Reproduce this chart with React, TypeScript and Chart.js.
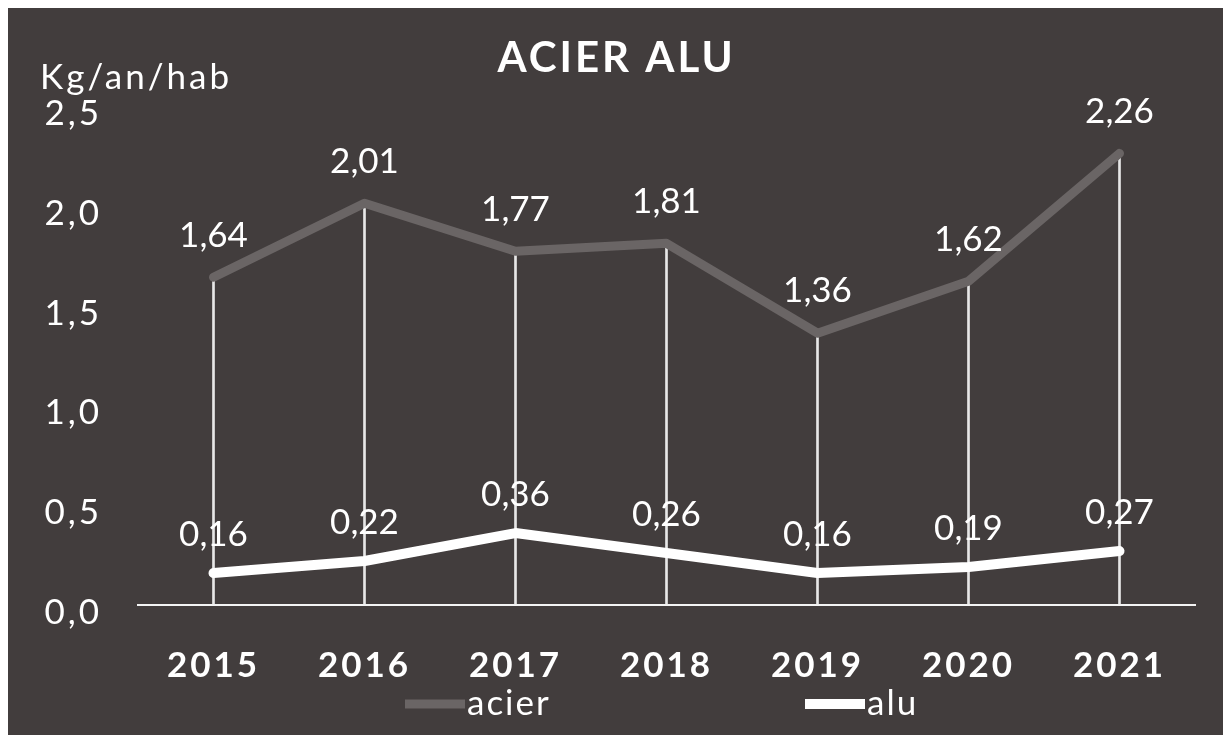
import React, { useEffect, useRef } from "react";
import { Chart, registerables } from "chart.js";

Chart.register(...registerables);

const years = ["2015", "2016", "2017", "2018", "2019", "2020", "2021"];
const acier = [1.64, 2.01, 1.77, 1.81, 1.36, 1.62, 2.26];
const alu = [0.16, 0.22, 0.36, 0.26, 0.16, 0.19, 0.27];
const yTicks = [0, 0.5, 1.0, 1.5, 2.0, 2.5];
const chartTitle = "ACIER ALU";
const unitLabel = "Kg/an/hab";

const FONT = "Lato, 'Open Sans', sans-serif";
const BG = "#423d3d";
const ACIER_COLOR = "#6a6565";
const ALU_COLOR = "#ffffff";

const fmt = (v: number, d: number) => v.toFixed(d).replace(".", ",");

const spacingPlugin = {
  id: "spacing",
  beforeLayout(chart: any) {
    chart.ctx.letterSpacing = "3px";
  },
  beforeDraw(chart: any) {
    chart.ctx.letterSpacing = "3px";
  },
};

const extrasPlugin = {
  id: "extras",
  afterDatasetsDraw(chart: any) {
    const ctx = chart.ctx;
    ctx.save();
    ctx.letterSpacing = "0px";
    ctx.fillStyle = "#ffffff";
    ctx.font = `35px ${FONT}`;
    ctx.textAlign = "center";
    ctx.textBaseline = "middle";
    chart.data.datasets.forEach((ds: any, i: number) => {
      if (ds.type !== "line") return;
      const meta = chart.getDatasetMeta(i);
      const off = ds.label === "acier" ? 42 : 38;
      meta.data.forEach((pt: any, j: number) => {
        ctx.fillText(fmt(ds.data[j], 2), pt.x, pt.y - off);
      });
    });
    ctx.restore();
  },
  afterDraw(chart: any) {
    const ctx = chart.ctx;
    ctx.save();
    ctx.fillStyle = "#ffffff";
    ctx.font = `35px ${FONT}`;
    ctx.textAlign = "left";
    ctx.textBaseline = "middle";
    ctx.letterSpacing = "3px";
    ctx.fillText(unitLabel, 32, 70);
    // legend
    ctx.letterSpacing = "2px";
    const cx = chart.width / 2;
    const ly = chart.chartArea.bottom + 99;
    const items = chart.data.datasets.filter((d: any) => d.type === "line");
    const starts = [cx - 211.5, cx + 188.5];
    items.forEach((ds: any, k: number) => {
      const x0 = starts[k];
      ctx.strokeStyle = ds.borderColor;
      ctx.lineWidth = ds.borderWidth;
      ctx.lineCap = "butt";
      ctx.beginPath();
      ctx.moveTo(x0, ly);
      ctx.lineTo(x0 + 60, ly);
      ctx.stroke();
      ctx.fillText(ds.label, x0 + 62, ly);
    });
    ctx.restore();
  },
};

export default function App() {
  const ref = useRef<HTMLCanvasElement | null>(null);
  useEffect(() => {
    if (!ref.current) return;
    const chart = new Chart(ref.current, {
      type: "bar",
      data: {
        labels: years,
        datasets: [
          {
            type: "line",
            label: "acier",
            data: acier,
            borderColor: ACIER_COLOR,
            backgroundColor: ACIER_COLOR,
            borderWidth: 9,
            pointRadius: 0,
            borderJoinStyle: "round",
            borderCapStyle: "round",
            tension: 0,
            order: 2,
          } as any,
          {
            type: "line",
            label: "alu",
            data: alu,
            borderColor: ALU_COLOR,
            backgroundColor: ALU_COLOR,
            borderWidth: 10,
            pointRadius: 0,
            borderJoinStyle: "round",
            borderCapStyle: "round",
            tension: 0,
            order: 1,
          } as any,
          {
            type: "bar",
            label: "drop",
            data: acier,
            backgroundColor: "rgba(240,240,240,0.95)",
            barThickness: 2,
            order: 3,
          } as any,
        ],
      },
      options: {
        animation: false,
        responsive: true,
        maintainAspectRatio: false,
        layout: { padding: { left: 0, right: 0, top: 0, bottom: 8 } },
        plugins: {
          legend: { display: false },
          tooltip: { enabled: false },
          title: {
            display: true,
            text: chartTitle,
            color: "#ffffff",
            font: { family: FONT, size: 42, weight: "bold" },
            padding: { top: 25, bottom: 22 },
          },
        },
        scales: {
          x: {
            offset: true,
            grid: { display: false, drawTicks: false },
            border: { display: true, color: "#f4f4f4", width: 2 },
            ticks: {
              color: "#ffffff",
              font: { family: FONT, size: 35, weight: "bold" },
              padding: 40,
              maxRotation: 0,
            },
          },
          y: {
            min: 0,
            max: 2.5,
            grid: { display: false, drawTicks: false },
            border: { display: false },
            afterFit: (scale: any) => {
              scale.width = 130;
            },
            afterBuildTicks: (scale: any) => {
              scale.ticks = yTicks.map((v) => ({ value: v }));
            },
            ticks: {
              color: "#ffffff",
              font: { family: FONT, size: 35 },
              padding: 36,
              labelOffset: 8,
              callback: (v: any) => fmt(Number(v), 1),
            },
          },
          yRight: {
            position: "right",
            min: 0,
            max: 2.5,
            grid: { display: false, drawTicks: false },
            border: { display: false },
            ticks: { display: false },
            afterFit: (scale: any) => {
              scale.width = 30;
            },
          },
        },
      },
      plugins: [spacingPlugin, extrasPlugin],
    });
    return () => chart.destroy();
  }, []);

  return (
    <div style={{ width: 1217, height: 727, background: BG, position: "relative" }}>
      <canvas ref={ref} />
    </div>
  );
}
